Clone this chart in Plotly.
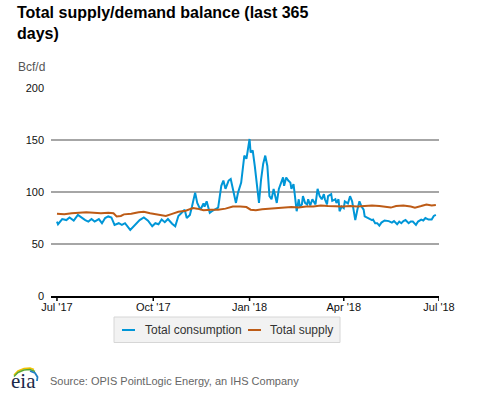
import plotly.graph_objects as go

# ---------------- data ----------------
cons_dates = [
    "2017-07-01", "2017-07-02", "2017-07-06", "2017-07-10", "2017-07-13", "2017-07-17", "2017-07-21",
    "2017-07-25", "2017-07-28", "2017-07-31", "2017-08-03", "2017-08-06", "2017-08-10", "2017-08-13",
    "2017-08-16", "2017-08-19", "2017-08-22", "2017-08-25", "2017-08-29", "2017-09-01", "2017-09-04",
    "2017-09-09", "2017-09-12", "2017-09-15", "2017-09-18", "2017-09-22", "2017-09-26", "2017-09-30",
    "2017-10-03", "2017-10-06", "2017-10-09", "2017-10-12", "2017-10-15", "2017-10-19", "2017-10-22",
    "2017-10-25", "2017-10-28", "2017-10-31", "2017-11-02", "2017-11-05", "2017-11-07", "2017-11-10",
    "2017-11-12", "2017-11-15", "2017-11-18", "2017-11-19", "2017-11-21", "2017-11-23", "2017-11-24",
    "2017-11-26", "2017-11-29", "2017-12-02", "2017-12-05", "2017-12-07", "2017-12-09", "2017-12-12",
    "2017-12-14", "2017-12-16", "2017-12-19", "2017-12-21", "2017-12-24", "2017-12-27", "2017-12-29",
    "2017-12-30", "2018-01-01", "2018-01-02", "2018-01-04", "2018-01-06", "2018-01-08", "2018-01-10",
    "2018-01-12", "2018-01-14", "2018-01-16", "2018-01-18", "2018-01-20", "2018-01-22", "2018-01-24",
    "2018-01-26", "2018-01-27", "2018-01-29", "2018-01-31", "2018-02-02", "2018-02-03", "2018-02-05",
    "2018-02-07", "2018-02-09", "2018-02-10", "2018-02-12", "2018-02-13", "2018-02-15", "2018-02-17",
    "2018-02-18", "2018-02-20", "2018-02-21", "2018-02-23", "2018-02-25", "2018-02-26", "2018-02-28",
    "2018-03-02", "2018-03-05", "2018-03-07", "2018-03-09", "2018-03-11", "2018-03-13", "2018-03-14",
    "2018-03-16", "2018-03-17", "2018-03-20", "2018-03-21", "2018-03-24", "2018-03-25", "2018-03-27",
    "2018-03-28", "2018-03-30", "2018-04-01", "2018-04-02", "2018-04-05", "2018-04-07", "2018-04-09",
    "2018-04-10", "2018-04-12", "2018-04-14", "2018-04-16", "2018-04-18", "2018-04-20", "2018-04-21",
    "2018-04-24", "2018-04-28", "2018-04-29", "2018-05-01", "2018-05-03", "2018-05-05", "2018-05-07",
    "2018-05-10", "2018-05-14", "2018-05-17", "2018-05-19", "2018-05-22", "2018-05-24", "2018-05-26",
    "2018-05-28", "2018-05-30", "2018-06-02", "2018-06-04", "2018-06-06", "2018-06-09", "2018-06-11",
    "2018-06-14", "2018-06-16", "2018-06-18", "2018-06-21", "2018-06-24", "2018-06-26", "2018-06-28",
]
cons_values = [
    71.6, 69, 74, 73, 75.5, 72.6, 78,
    75, 73, 71.6, 74, 71.6, 74, 70,
    75, 76.5, 75.5, 68.4, 70, 68.4, 70,
    63.5, 66.8, 70, 73, 75.5, 72.5, 67,
    70, 69, 73.5, 71, 74, 69.5, 67,
    77, 80, 83, 75, 78, 86, 99.4,
    89.5, 83, 89, 86, 91, 83, 80,
    81.5, 83, 85, 106, 111, 103, 111,
    112.5, 103, 89.5, 99.4, 109, 135, 132,
    138, 151, 138, 140, 125, 106, 89.5,
    112, 127, 135, 125, 96, 93, 103,
    93, 89.5, 103, 109, 114, 106, 114,
    111, 109, 103, 107.5, 99.4, 81.5, 93,
    86, 88, 96, 89.5, 88, 93, 87,
    93, 88, 103, 96, 93, 98, 93,
    88, 96, 98, 91.5, 93, 89.5, 93,
    81.5, 86, 84.5, 91, 89, 96, 91,
    86, 73, 83, 91, 86, 83, 76.6,
    75, 73, 73.5, 70, 70, 67.7, 70.6,
    72.6, 72, 70.6, 72, 69, 71.6, 70,
    72, 73, 70, 71.6, 71.6, 68.4, 71.6,
    73.5, 72.6, 75, 73.5, 73.5, 77, 78,
]

supply_dates = [
    "2017-07-01", "2017-07-08", "2017-07-15", "2017-07-22", "2017-07-29", "2017-08-05", "2017-08-12",
    "2017-08-19", "2017-08-24", "2017-08-27", "2017-08-31", "2017-09-03", "2017-09-10", "2017-09-17",
    "2017-09-22", "2017-09-28", "2017-10-03", "2017-10-08", "2017-10-13", "2017-10-19", "2017-10-25",
    "2017-11-01", "2017-11-08", "2017-11-12", "2017-11-18", "2017-11-25", "2017-12-02", "2017-12-09",
    "2017-12-16", "2017-12-23", "2017-12-29", "2018-01-02", "2018-01-07", "2018-01-13", "2018-01-20",
    "2018-01-27", "2018-02-03", "2018-02-10", "2018-02-17", "2018-02-24", "2018-03-03", "2018-03-10",
    "2018-03-17", "2018-03-24", "2018-03-31", "2018-04-07", "2018-04-14", "2018-04-21", "2018-04-28",
    "2018-05-05", "2018-05-12", "2018-05-16", "2018-05-21", "2018-05-28", "2018-06-04", "2018-06-08",
    "2018-06-14", "2018-06-19", "2018-06-24", "2018-06-28",
]
supply_values = [
    79, 78.5, 79.5, 80, 80.5, 80, 79.5,
    80, 79.5, 76.5, 77, 78.5, 79, 80.5,
    81, 79.5, 78.5, 77.5, 77, 79, 81,
    82, 84.5, 84, 82.5, 83, 83, 84,
    86, 86, 85.5, 83, 82.5, 83.5, 84,
    84.5, 85, 85.5, 85, 86, 86, 87,
    86.5, 86, 86, 86.5, 86, 86.5, 87,
    86.5, 86, 85, 86.5, 87, 86, 85,
    86.5, 88, 87, 87.5,
]

tick_dates = ["2017-07-01", "2017-10-01", "2018-01-01", "2018-04-01", "2018-07-01"]
tick_labels = ["Jul '17", "Oct '17", "Jan '18", "Apr '18", "Jul '18"]
y_ticks = [0, 50, 100, 150, 200]

series_names = ["Total consumption", "Total supply"]
series_colors = ["#0096d7", "#bd5b16"]

# ---------------- figure ----------------
W, H = 477, 393
L, R, T, B = 51, 38, 88, 97
PW, PH = W - L - R, H - T - B


def px(x):
    return (x - L) / PW


def py(y):
    return (H - B - y) / PH


FONT = "Liberation Sans, Arial, sans-serif"

fig = go.Figure()
fig.add_trace(go.Scatter(x=cons_dates, y=cons_values, mode="lines", name=series_names[0],
                         line=dict(color=series_colors[0], width=2), showlegend=False))
fig.add_trace(go.Scatter(x=supply_dates, y=supply_values, mode="lines", name=series_names[1],
                         line=dict(color=series_colors[1], width=2), showlegend=False))

shapes = []
annotations = []

# title
annotations.append(dict(text="<b>Total supply/demand balance (last 365<br>days)</b>",
                        xref="paper", yref="paper", x=px(15), y=py(2),
                        xanchor="left", yanchor="top", align="left", showarrow=False,
                        font=dict(family=FONT, size=16, color="#000000")))

# x tick marks (drawn at the tick dates, hanging below the axis line)
for d in tick_dates:
    shapes.append(dict(type="line", xref="x", yref="paper", x0=d, x1=d, y0=0, y1=py(301),
                       line=dict(color="#000000", width=1.5)))

# custom legend box
shapes.append(dict(type="rect", xref="paper", yref="paper",
                   x0=px(114), x1=px(340), y0=py(342.5), y1=py(317),
                   fillcolor="#f2f2f2", line=dict(color="#d6d6d6", width=1), layer="below"))
leg_items = [(122, 135, 143), (248, 261, 268)]
for (lx0, lx1, tx), name, col in zip(leg_items, series_names, series_colors):
    shapes.append(dict(type="line", xref="paper", yref="paper",
                       x0=px(lx0), x1=px(lx1), y0=py(330), y1=py(330),
                       line=dict(color=col, width=2)))
    annotations.append(dict(text=name, xref="paper", yref="paper", x=px(tx), y=py(330),
                            xanchor="left", yanchor="middle", showarrow=False,
                            font=dict(family=FONT, size=12, color="#333333")))

# units label
annotations.append(dict(text="Bcf/d", xref="paper", yref="paper", x=px(16), y=py(67),
                        xanchor="left", yanchor="middle", showarrow=False,
                        font=dict(family=FONT, size=12, color="#555555")))

# source line
annotations.append(dict(text="Source: OPIS PointLogic Energy, an IHS Company", xref="paper", yref="paper",
                        x=px(48), y=py(381), xanchor="left", yanchor="middle", showarrow=False,
                        font=dict(family=FONT, size=11, color="#666666")))

# eia logo (text + swooshes)
annotations.append(dict(text="eia", xref="paper", yref="paper", x=px(9), y=py(381),
                        xanchor="left", yanchor="middle", showarrow=False,
                        font=dict(family="Liberation Serif, DejaVu Serif, serif", size=21, color="#1b2a4a")))


def pth(points):
    return "M " + " L ".join(f"{px(a):.4f},{py(b):.4f}" for a, b in points)


shapes.append(dict(type="path", xref="paper", yref="paper",
                   path=pth([(14, 375), (18, 371), (24, 368.5), (30, 368), (34, 369.5)]),
                   line=dict(color="#f2c200", width=1.5)))
shapes.append(dict(type="path", xref="paper", yref="paper",
                   path=pth([(14, 376.5), (18, 372.5), (24, 370), (30, 369.5), (35, 371.5)]),
                   line=dict(color="#5aa832", width=1.5)))
shapes.append(dict(type="path", xref="paper", yref="paper",
                   path=pth([(30, 371), (35, 373), (37.5, 377), (37, 381)]),
                   line=dict(color="#1f7fc4", width=1.8)))

fig.update_layout(
    width=W, height=H, autosize=False,
    margin=dict(l=L, r=R, t=T, b=B, pad=0),
    paper_bgcolor="white", plot_bgcolor="white",
    shapes=shapes, annotations=annotations,
    showlegend=False,
    hovermode=False,
)

fig.update_xaxes(
    type="date", range=["2017-06-25 07:00", "2018-07-01"],
    tickvals=tick_dates, ticktext=tick_labels,
    showgrid=False, zeroline=False,
    showline=True, linecolor="#000000", linewidth=1.5,
    ticks="", ticklabelstandoff=0,
    tickfont=dict(family=FONT, size=11, color="#111111"),
)
fig.update_yaxes(
    range=[0, 200], tickvals=y_ticks,
    showgrid=True, gridcolor="#a6a6a6", gridwidth=1.5,
    zeroline=False, showline=False, ticks="",
    ticklabelstandoff=6,
    tickfont=dict(family=FONT, size=11, color="#111111"),
)

fig.write_html(
    "out.html",
    config={"displayModeBar": False},
    post_script="document.body.style.margin='0';document.body.style.padding='0';"
                "document.documentElement.style.overflow='hidden';",
)
